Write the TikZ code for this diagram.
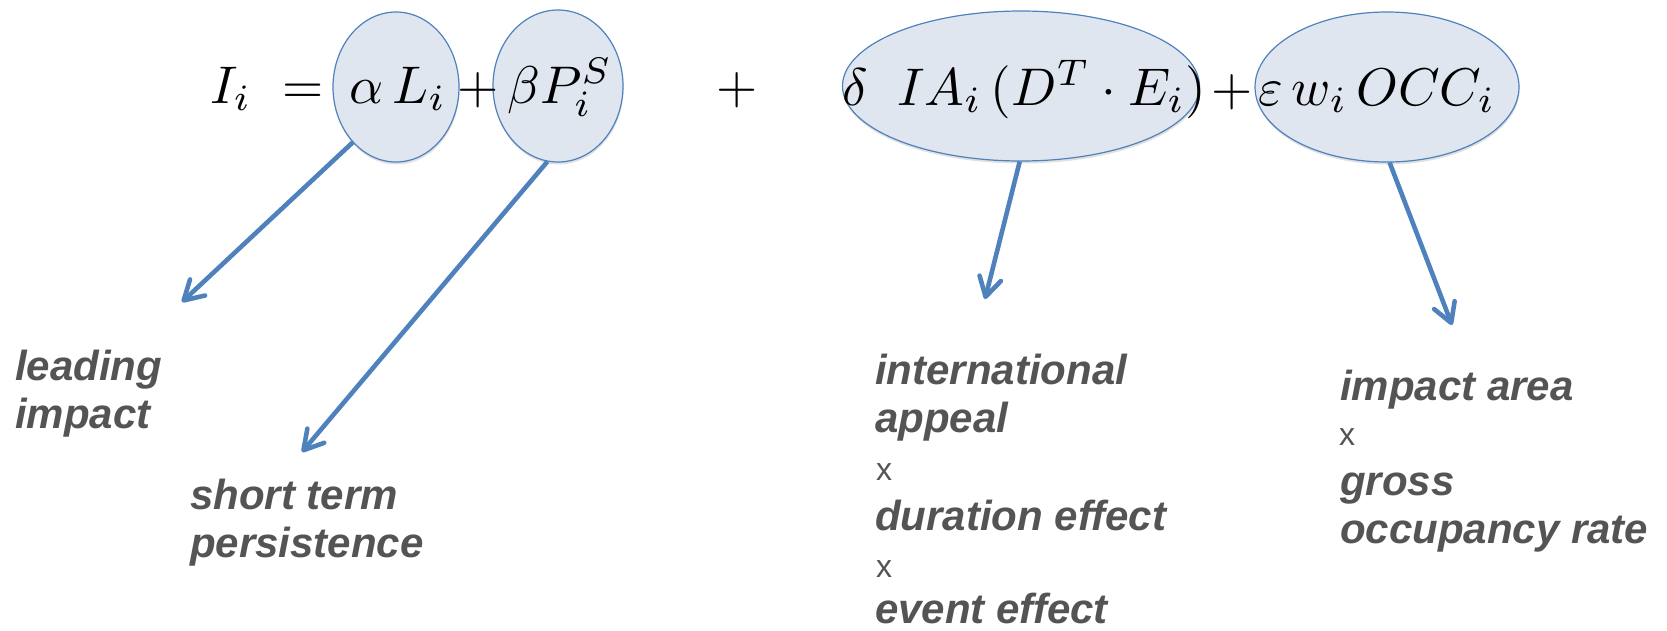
\documentclass[tikz,border=0pt]{standalone}
\usepackage{graphicx}
\usepackage{fontspec}
\newfontfamily\labfont{Liberation Sans}
\usetikzlibrary{arrows.meta,shapes.geometric}

\definecolor{arrowblue}{HTML}{4F81BD}
\definecolor{ellfill}{HTML}{DFE6EF}
\definecolor{labgray}{HTML}{545454}

% formula pieces are set at 10pt and enlarged
\newcommand\eqbig[1]{\scalebox{5.3}{$#1$}}

\tikzset{
  term/.style={ellipse, draw=arrowblue, line width=1.2pt, fill=ellfill,
    inner sep=0pt,
    preaction={fill=black, fill opacity=0.12,
      transform canvas={xshift=0.5pt, yshift=-2.5pt}}},
  eq/.style={anchor=base, inner sep=0pt, text=black},
  pointer/.style={draw=arrowblue, line width=4.6pt,
    -{Straight Barb[length=19pt,width=22pt,round]}},
  % multi-line labels: the base anchor sits on the last line
  lab/.style={anchor=base west, inner sep=0pt, text=labgray, align=left,
    font=\labfont\bfseries\itshape\fontsize{42}{48}\selectfont},
  times/.style={anchor=base west, inner sep=0pt, text=labgray,
    font=\labfont\fontsize{32}{36}\selectfont},
}

\begin{document}
\begin{tikzpicture}[x=1pt, y=-1pt]
\useasboundingbox (0,0) rectangle (1667,630);

% highlighted terms of the equation
\node[term, minimum width=126pt, minimum height=150pt] (e1) at (396,87) {};
\node[term, minimum width=130pt, minimum height=152pt] (e2) at (558,86) {};
\node[term, minimum width=357pt, minimum height=150pt] (e3) at (1021,86) {};
\node[term, minimum width=264pt, minimum height=150pt] (e4) at (1387,87) {};

% the equation
\node[eq] (lhs) at (231,103) {\eqbig{I_i}};
\node[eq] (eqs) at (303,103) {\eqbig{=}};
\node[eq] (t1) at (398,103) {\eqbig{\alpha\, L_i}};
\node[eq] (p1) at (478,103) {\eqbig{+}};
\node[eq] (t2) at (560,103) {\eqbig{\beta P_i^S}};
\node[eq] (p2) at (737,103) {\eqbig{+}};
\node[eq] (t3) at (1024,105) {\eqbig{\delta\;\; IA_i\,(D^T\cdot E_i)}};
\node[eq] (p3) at (1232,105) {\eqbig{+}};
\node[eq] (t4) at (1377,105) {\eqbig{\varepsilon\, w_i\, OCC_i}};

% arrow tips
\coordinate (a1) at (182,302);
\coordinate (a2) at (302,452);
\coordinate (a3) at (985,299);
\coordinate (a4) at (1452,325);

\draw[pointer] (e1.232) -- (a1);
\draw[pointer] (e2.262) -- (a2);
\draw[pointer] (e3.269) -- (a3);
\draw[pointer] (e4.272) -- (a4);

% explanations
\node[lab] (l1) at (15,428) {leading\\impact};
\node[lab] (l2) at (190,557) {short term\\persistence};

\node[lab] (l3a) at (875,432) {international\\appeal};
\node[times] (x1) at (876,480) {x};
\node[lab] (l3b) at (875,530) {duration effect};
\node[times] (x2) at (876,577) {x};
\node[lab] (l3c) at (875,623) {event effect};

\node[lab] (l4a) at (1340,400) {impact area};
\node[times] (x3) at (1339,445) {x};
\node[lab] (l4b) at (1340,543) {gross\\occupancy rate};
\end{tikzpicture}
\end{document}
